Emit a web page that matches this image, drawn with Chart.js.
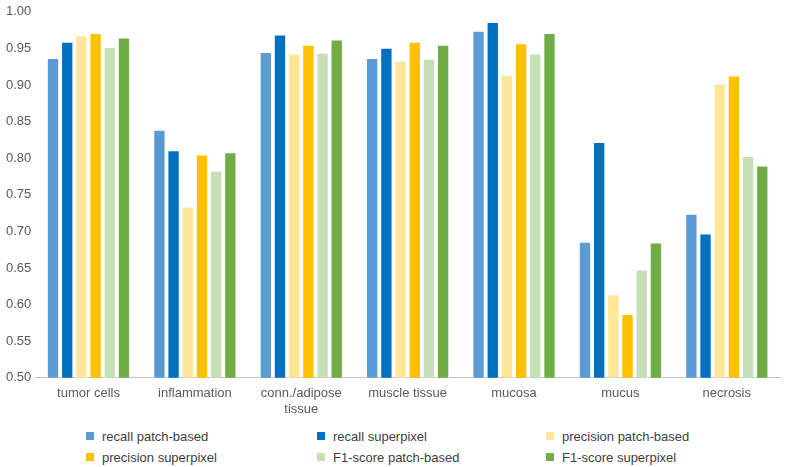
<!DOCTYPE html>
<html>
<head>
<meta charset="utf-8">
<script src="https://cdn.jsdelivr.net/npm/chart.js@4/dist/chart.umd.min.js"></script>
<style>
  html,body{margin:0;padding:0;background:#fff;}
  body{width:789px;height:467px;position:relative;overflow:hidden;font-family:"Liberation Sans",Arial,sans-serif;}
  #wrap{position:absolute;left:0;top:0;width:789px;height:425px;}
  #legend{position:absolute;left:0;top:427px;width:789px;height:40px;font-size:13px;color:#404040;}
  .item{position:absolute;display:flex;align-items:center;white-space:nowrap;height:18px;}
  .sw{width:8px;height:8px;margin-right:8px;}
</style>
</head>
<body>
<div id="wrap"><canvas id="c" width="789" height="425"></canvas></div>
<div id="legend"></div>
<script>
const categories = ["tumor cells", "inflammation", ["conn./adipose", "tissue"], "muscle tissue", "mucosa", "mucus", "necrosis"];
const seriesNames = ["recall patch-based", "recall superpixel", "precision patch-based", "precision superpixel", "F1-score patch-based", "F1-score superpixel"];
const recallPatch = [0.937, 0.839, 0.945, 0.937, 0.974, 0.686, 0.724];
const recallSuper = [0.959, 0.811, 0.969, 0.951, 0.986, 0.822, 0.697];
const precisionPatch = [0.968, 0.734, 0.943, 0.933, 0.914, 0.614, 0.902];
const precisionSuper = [0.971, 0.805, 0.955, 0.959, 0.957, 0.587, 0.913];
const f1Patch = [0.952, 0.783, 0.944, 0.936, 0.943, 0.648, 0.803];
const f1Super = [0.965, 0.808, 0.962, 0.955, 0.971, 0.685, 0.790];
const yTicks = [0.50, 0.55, 0.60, 0.65, 0.70, 0.75, 0.80, 0.85, 0.90, 0.95, 1.00];

const colors = ["#5B9BD5", "#0070C0", "#FFE699", "#FFC000", "#C5E0B4", "#70AD47"];
const seriesValues = [recallPatch, recallSuper, precisionPatch, precisionSuper, f1Patch, f1Super];

const datasets = seriesNames.map((n, i) => ({
  label: n,
  data: seriesValues[i],
  backgroundColor: colors[i],
  borderColor: "#ffffff",
  borderWidth: 1,
  borderSkipped: "bottom",
  categoryPercentage: 0.8,
  barPercentage: 0.87
}));

Chart.defaults.font.family = '"Liberation Sans", Arial, sans-serif';
Chart.defaults.font.size = 13;
Chart.defaults.color = "#595959";

new Chart(document.getElementById("c"), {
  type: "bar",
  data: { labels: categories, datasets },
  options: {
    responsive: false,
    animation: false,
    layout: { padding: { left: 2, right: 9, top: 0, bottom: 0 } },
    plugins: { legend: { display: false }, tooltip: { enabled: false } },
    scales: {
      y: {
        min: 0.5, max: 1.0,
        afterBuildTicks: (axis) => { axis.ticks = yTicks.map(v => ({ value: v })); },
        ticks: { callback: (v) => Number(v).toFixed(2), padding: 4, color: "#595959" },
        grid: { display: false, drawTicks: false },
        border: { display: false }
      },
      x: {
        ticks: { color: "#595959", padding: 8, maxRotation: 0, autoSkip: false },
        grid: { display: false, drawTicks: false },
        border: { display: true, color: "#bfbfbf", width: 1 }
      }
    }
  }
});

const legend = document.getElementById("legend");
const colX = [86, 317, 546];
seriesNames.forEach((n, i) => {
  const d = document.createElement("div");
  d.className = "item";
  d.style.left = colX[i % 3] + "px";
  d.style.top = (Math.floor(i / 3) * 21) + "px";
  d.innerHTML = '<span class="sw" style="background:' + colors[i] + '"></span><span>' + n + '</span>';
  legend.appendChild(d);
});
</script>
</body>
</html>
